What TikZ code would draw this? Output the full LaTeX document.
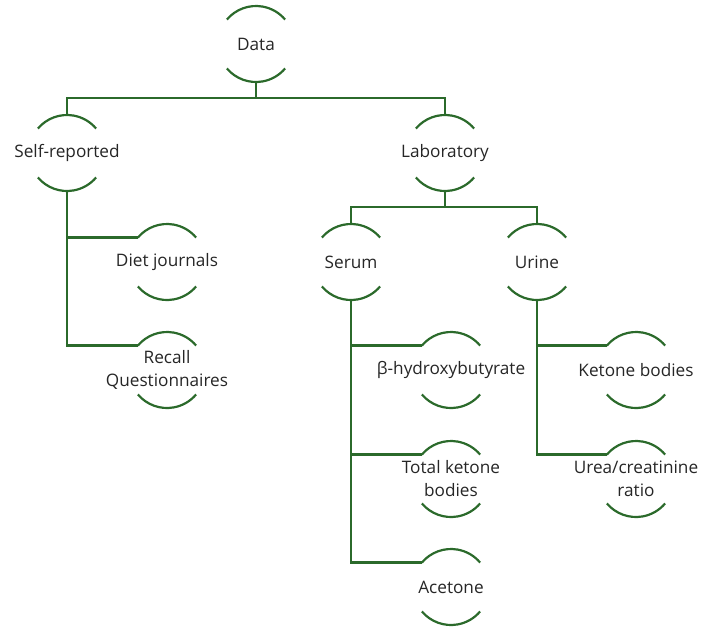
\documentclass[tikz,border=0pt]{standalone}
\usepackage{fontspec}
\setmainfont{Open Sans}
\definecolor{grn}{HTML}{2B6A2B}
\definecolor{txt}{HTML}{262626}
\tikzset{
  ln/.style={draw=grn, line width=2.2pt},
  bub/.style={circle, minimum size=76pt, inner sep=0pt, outer sep=0pt,
    label={[text=txt, align=center, font=\fontsize{17.2}{23}\selectfont]center:#1}},
}
\begin{document}
\begin{tikzpicture}[x=1pt, y=-1pt]
\useasboundingbox (0,0) rectangle (712,630);
\node[bub=Data] (data) at (256,44) {};
\node[bub=Self-reported] (self) at (67,153) {};
\node[bub=Laboratory] (lab) at (445,153) {};
\node[bub=Diet journals] (diet) at (167,262) {};
\node[bub={Recall\\Questionnaires}] (recall) at (167,370) {};
\node[bub=Serum] (serum) at (351,262) {};
\node[bub=Urine] (urine) at (537,262) {};
\node[bub=β-hydroxybutyrate] (bhb) at (451,370) {};
\node[bub={Total ketone\\bodies}] (tkb) at (451,479) {};
\node[bub=Acetone] (acet) at (451,587) {};
\node[bub=Ketone bodies] (kb) at (636,370) {};
\node[bub={Urea/creatinine\\ratio}] (urea) at (636,479) {};
% arcs above and below each label
\foreach \n in {data,self,lab,diet,recall,serum,urine,bhb,tkb,acet,kb,urea}{
  \draw[ln] (\n.140) arc[start angle=140, end angle=40, radius=38pt];
  \draw[ln] (\n.220) arc[start angle=220, end angle=320, radius=38pt];
}
\draw[ln] (data.south) -- +(0,16) -| (self.north);
\draw[ln] (data.south) -- +(0,16) -| (lab.north);
\draw[ln] (self.south) |- (diet.140);
\draw[ln] (self.south) |- (recall.140);
\draw[ln] (lab.south) -- +(0,16) -| (serum.north);
\draw[ln] (lab.south) -- +(0,16) -| (urine.north);
\draw[ln] (serum.south) |- (bhb.140);
\draw[ln] (serum.south) |- (tkb.140);
\draw[ln] (serum.south) |- (acet.140);
\draw[ln] (urine.south) |- (kb.140);
\draw[ln] (urine.south) |- (urea.140);
\end{tikzpicture}
\end{document}
